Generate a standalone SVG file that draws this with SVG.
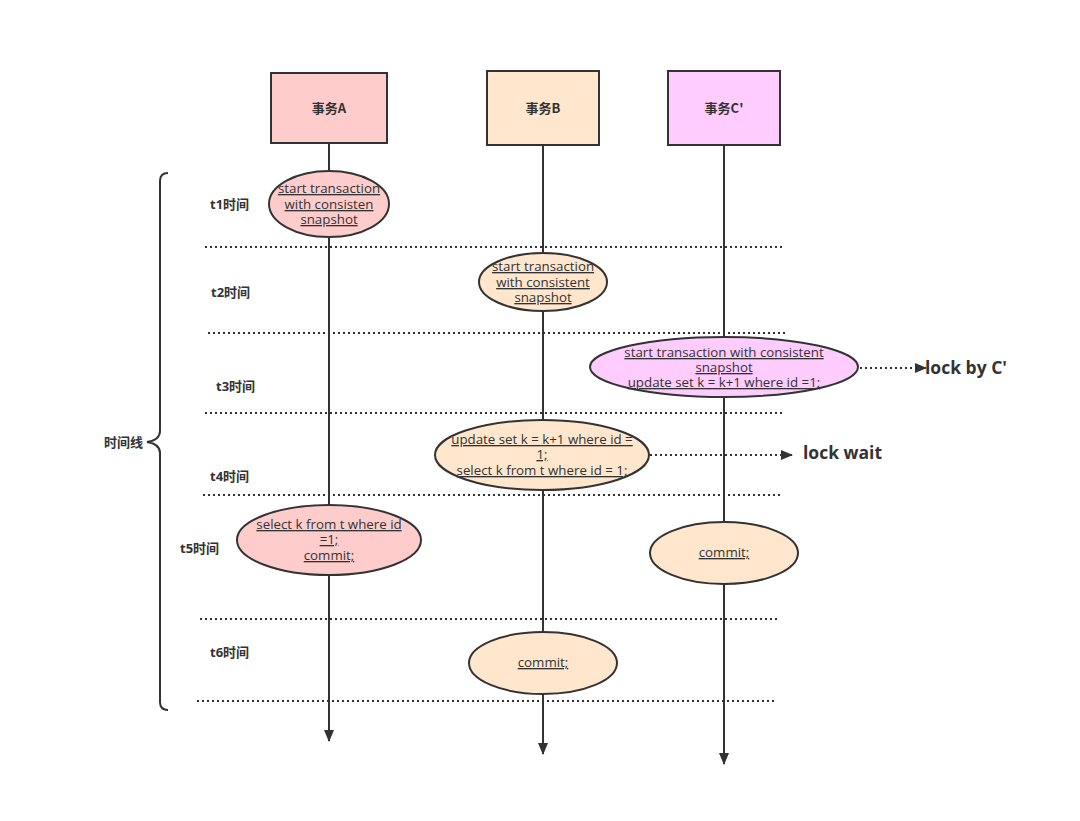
<svg xmlns="http://www.w3.org/2000/svg" width="1080" height="821" viewBox="0 0 1080 821">
<defs>
<marker id="ah" markerWidth="12" markerHeight="14" refX="11" refY="5" orient="auto" markerUnits="userSpaceOnUse" viewBox="0 0 12 10">
<path d="M0,0 L12,5 L0,10 Z" fill="#333"/>
</marker>
<style>
.box{stroke:#333;stroke-width:2}
.ell{stroke:#333;stroke-width:2}
.life{stroke:#333;stroke-width:2;fill:none}
.dot{stroke:#333;stroke-width:2;stroke-dasharray:2 3;fill:none}
.t{font-family:"Open Sans","DejaVu Sans",sans-serif;font-size:13.3px;fill:#333;text-anchor:middle;text-decoration:underline}
.h{font-family:"Noto Sans CJK SC","Open Sans",sans-serif;font-size:13px;font-weight:bold;fill:#333;text-anchor:middle}
.lbl{font-family:"Open Sans","Noto Sans CJK SC",sans-serif;font-size:13px;font-weight:bold;fill:#333}
.big{font-family:"Open Sans","DejaVu Sans",sans-serif;font-size:17.5px;font-weight:bold;fill:#333}
</style>
</defs>
<rect width="1080" height="821" fill="#fff"/>
<g id="timeline">
<line class="dot" x1="205" y1="247" x2="785" y2="247"/>
<line class="dot" x1="208" y1="333" x2="787" y2="333"/>
<line class="dot" x1="205" y1="413" x2="782" y2="413"/>
<line class="dot" x1="203" y1="495" x2="780" y2="495"/>
<line class="dot" x1="200" y1="619" x2="778" y2="619"/>
<line class="dot" x1="197" y1="701" x2="775" y2="701"/>
<path class="life" d="M168,173 Q160,173 160,181 L160,431 Q160,440 147,442 Q160,444 160,453 L160,702 Q160,710 168,710"/>
<text class="lbl" x="104" y="447">时间线</text>
<text class="lbl" x="210" y="209">t1时间</text>
<text class="lbl" x="211" y="297">t2时间</text>
<text class="lbl" x="216" y="391">t3时间</text>
<text class="lbl" x="210" y="481">t4时间</text>
<text class="lbl" x="180" y="553">t5时间</text>
<text class="lbl" x="210" y="657">t6时间</text>
</g>
<g id="connectors">
<line class="life" x1="329" y1="143" x2="329" y2="741" marker-end="url(#ah)"/>
<line class="life" x1="543" y1="145" x2="543" y2="754" marker-end="url(#ah)"/>
<line class="life" x1="724" y1="145" x2="724" y2="764" marker-end="url(#ah)"/>
<line class="dot" x1="860" y1="368" x2="926" y2="368" marker-end="url(#ah)"/>
<line class="dot" x1="650" y1="455" x2="792" y2="455" marker-end="url(#ah)"/>
</g>
<g id="txA"><rect class="box" x="271" y="73" width="116" height="70" fill="#ffcccc"/><text class="h" x="329" y="113">事务A</text></g>
<g id="txB"><rect class="box" x="487" y="71" width="112" height="74" fill="#ffe6cc"/><text class="h" x="543" y="113">事务B</text></g>
<g id="txC"><rect class="box" x="668" y="71" width="112" height="74" fill="#ffccff"/><text class="h" x="724" y="113">事务C'</text></g>
<g id="a1"><ellipse class="ell" cx="329" cy="204" rx="60" ry="33" fill="#ffcccc"/>
<text class="t" x="329" y="193">start transaction</text><text class="t" x="329" y="209">with consisten </text><text class="t" x="329" y="224">snapshot</text></g>
<g id="b1"><ellipse class="ell" cx="543" cy="282" rx="64" ry="29" fill="#ffe6cc"/>
<text class="t" x="543" y="271">start transaction</text><text class="t" x="543" y="287">with consistent </text><text class="t" x="543" y="302">snapshot</text></g>
<g id="c1"><ellipse class="ell" cx="724" cy="367" rx="134" ry="30" fill="#ffccff"/>
<text class="t" x="724" y="357">start transaction with consistent </text><text class="t" x="724" y="372">snapshot</text><text class="t" x="724" y="387">update set k = k+1 where id =1;</text></g>
<g id="b2"><ellipse class="ell" cx="542" cy="455" rx="107" ry="35" fill="#ffe6cc"/>
<text class="t" x="542" y="444">update set k = k+1 where id =</text><text class="t" x="542" y="459">1;</text><text class="t" x="542" y="475">select k from t where id = 1;</text></g>
<g id="a2"><ellipse class="ell" cx="329" cy="540" rx="92" ry="35" fill="#ffcccc"/>
<text class="t" x="329" y="529">select k from t where id </text><text class="t" x="329" y="544">=1;</text><text class="t" x="329" y="560">commit;</text></g>
<g id="c2"><ellipse class="ell" cx="724" cy="553" rx="74" ry="31" fill="#ffe6cc"/><text class="t" x="724" y="557">commit;</text></g>
<g id="b3"><ellipse class="ell" cx="543" cy="663" rx="74" ry="31" fill="#ffe6cc"/><text class="t" x="543" y="667">commit;</text></g>
<g id="labels">
<text class="big" x="925" y="374">lock by C'</text>
<text class="big" x="803" y="459">lock wait</text>
</g>
</svg>
